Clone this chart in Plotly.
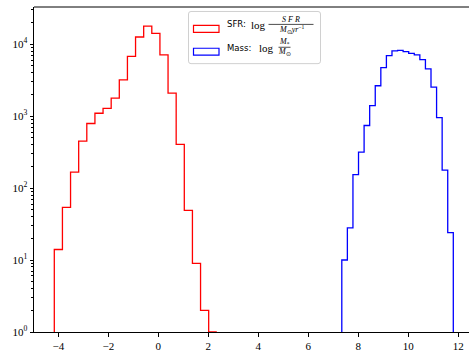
import numpy as np
import plotly.graph_objects as go

# Histogram counts per bin (log-scaled y axis)
sfr_counts = [14, 54, 166, 449, 788, 1093, 1282, 1778, 3190, 6760,
              12530, 17800, 14050, 7080, 2085, 404, 49, 9, 2, 1]
mass_counts = [10, 28, 154, 316, 739, 1396, 2637, 4720, 6918, 8030,
               8180, 7850, 7440, 7080, 6090, 4530, 2525, 953, 177, 24]

# Bin ranges of the two histograms (20 equal bins each)
sfr_range = (-4.16, 2.34)
mass_range = (7.34, 11.80)
floor_count = 1  # bottom of the log axis

x_ticks = [-4, -2, 0, 2, 4, 6, 8, 10, 12]
y_tick_exps = [0, 1, 2, 3, 4]

W, H = 469, 352
PL, PR, PT, PB = 34, 469, 7, 334
x_lo, x_hi = -4.972, 12.428
y_top_log = 4.515


def step_xy(rng, counts):
    edges = np.linspace(rng[0], rng[1], len(counts) + 1)
    xs = np.repeat(edges, 2)
    ys = np.concatenate([[floor_count], np.repeat(counts, 2), [floor_count]])
    return xs, ys


fig = go.Figure()
for rng, counts, color in [(sfr_range, sfr_counts, "#ff0000"),
                           (mass_range, mass_counts, "#0000ff")]:
    xs, ys = step_xy(rng, counts)
    fig.add_trace(go.Scatter(x=xs, y=ys, mode="lines",
                             line=dict(color=color, width=1.3),
                             showlegend=False, hoverinfo="skip"))


def fx(px):
    return (px - PL) / (PR - PL)


def fy(py):
    return (PB - py) / (PB - PT)


shapes = []
# top spine
shapes.append(dict(type="line", xref="paper", yref="paper", x0=0, x1=1, y0=1, y1=1,
                   line=dict(color="black", width=1)))

# legend frame with rounded corners
lx0, lx1, ly0, ly1, r = 188.5, 320.5, 11.5, 64.0, 2.5
path = (f"M {fx(lx0 + r)} {fy(ly0)} L {fx(lx1 - r)} {fy(ly0)} "
        f"Q {fx(lx1)} {fy(ly0)} {fx(lx1)} {fy(ly0 + r)} "
        f"L {fx(lx1)} {fy(ly1 - r)} Q {fx(lx1)} {fy(ly1)} {fx(lx1 - r)} {fy(ly1)} "
        f"L {fx(lx0 + r)} {fy(ly1)} Q {fx(lx0)} {fy(ly1)} {fx(lx0)} {fy(ly1 - r)} "
        f"L {fx(lx0)} {fy(ly0 + r)} Q {fx(lx0)} {fy(ly0)} {fx(lx0 + r)} {fy(ly0)} Z")
shapes.append(dict(type="path", xref="paper", yref="paper", path=path,
                   line=dict(color="#d0d0d0", width=1), fillcolor="rgba(255,255,255,0.8)"))

# legend swatches
for (y0, y1), color in [((25.5, 32.5), "#ff0000"), ((48.5, 55.5), "#0000ff")]:
    shapes.append(dict(type="rect", xref="paper", yref="paper",
                       x0=fx(193.5), x1=fx(219), y0=fy(y1), y1=fy(y0),
                       line=dict(color=color, width=1.2), fillcolor="rgba(0,0,0,0)"))

# fraction bars
for (a, b, y) in [(268.5, 313.5, 24.5), (278.5, 290.5, 47.5)]:
    shapes.append(dict(type="line", xref="paper", yref="paper",
                       x0=fx(a), x1=fx(b), y0=fy(y), y1=fy(y),
                       line=dict(color="black", width=0.7)))

SANS = "DejaVu Sans"
SERIF = "Liberation Serif"
annotations = []


def txt(px, py, text, size, family, xanchor="left"):
    annotations.append(dict(xref="paper", yref="paper", x=fx(px), y=fy(py),
                            text=text, showarrow=False, xanchor=xanchor,
                            yanchor="middle", borderpad=0,
                            font=dict(size=size, family=family, color="black")))


# SFR entry
txt(226, 24.5, "SFR:", 8.5, SANS)
txt(249.5, 25, "log", 11, SERIF)
txt(291, 19.5, "<i>S F R</i>", 8, SERIF, "center")
txt(291, 29.5, "<i>M</i><sub>⊙</sub><i>yr</i><sup>−1</sup>", 8, SERIF, "center")
# Mass entry
txt(226, 48, "Mass:", 8.5, SANS)
txt(257.5, 48.5, "log", 11, SERIF)
txt(284.5, 42.5, "<i>M</i><sub>*</sub>", 8, SERIF, "center")
txt(284.5, 52.5, "<i>M</i><sub>⊙</sub>", 8, SERIF, "center")

minor_vals = [m * 10 ** e for e in range(0, 5) for m in range(2, 10)]

fig.update_layout(
    width=W, height=H,
    margin=dict(l=PL, r=W - PR, t=PT, b=H - PB, pad=0),
    paper_bgcolor="white", plot_bgcolor="white",
    shapes=shapes, annotations=annotations,
    xaxis=dict(range=[x_lo, x_hi], showgrid=False, zeroline=False,
               showline=True, linecolor="black", linewidth=1,
               ticks="outside", ticklen=3.5, tickwidth=0.8, tickcolor="black",
               tickvals=x_ticks, ticktext=[f"{v}".replace("-", "−") for v in x_ticks],
               tickfont=dict(family=SERIF, size=11, color="black")),
    yaxis=dict(type="log", range=[0, y_top_log], showgrid=False, zeroline=False,
               showline=True, linecolor="black", linewidth=1,
               ticks="outside", ticklen=3.5, tickwidth=0.8, tickcolor="black",
               tickvals=[10 ** e for e in y_tick_exps],
               ticktext=[f"10<sup>{e}</sup>" for e in y_tick_exps],
               tickfont=dict(family=SERIF, size=11, color="black"),
               minor=dict(tickmode="array", tickvals=minor_vals, ticks="outside",
                          ticklen=2, tickwidth=0.6, tickcolor="black", showgrid=False)),
)

fig.write_html("out.html")
